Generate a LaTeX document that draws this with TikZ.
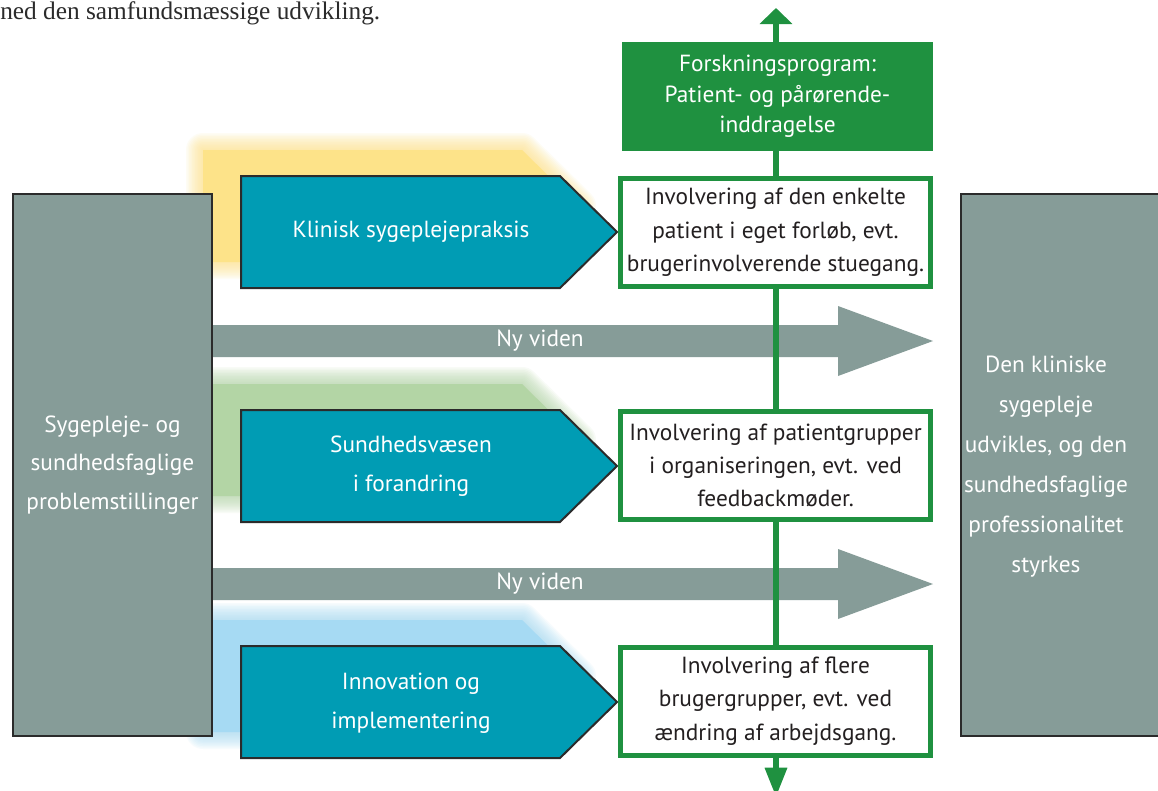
\documentclass[tikz,border=0pt]{standalone}
\usepackage{fontspec}
\setmainfont{PT Sans}
\newfontfamily\topserif{Liberation Serif}
\usetikzlibrary{arrows.meta}
\definecolor{graygreen}{HTML}{869C98}
\definecolor{tealbox}{HTML}{009CB4}
\definecolor{grn}{HTML}{1F9140}
\definecolor{yel}{HTML}{FDE389}
\definecolor{lgreen}{HTML}{B3D5A5}
\definecolor{lblue}{HTML}{A6DAF3}
\definecolor{txt}{HTML}{231F20}
\definecolor{dark}{HTML}{2B2B2B}
\tikzset{
  lbl/.style={text=white, align=center, inner sep=0pt, font=\fontsize{17.5}{29}\selectfont},
  tealshape/.style={fill=tealbox, draw=dark, line width=1.5pt, line join=miter},
  grayshape/.style={fill=graygreen, draw=dark, line width=1.5pt},
  whitebox/.style={draw=grn, fill=white, line width=3.75pt, minimum width=232.5pt, minimum height=81pt, inner sep=0pt, text=txt, align=center, font=\fontsize{17.5}{25}\selectfont},
  greenbox/.style={fill=grn, minimum width=233pt, minimum height=82pt, inner sep=0pt, text=white, align=center, font=\fontsize{17.5}{23}\selectfont},
}
\newcommand\blurpent[2]{%
  \foreach \w in {34,31,...,1}{%
    \draw[#1, line width=\w*0.75pt, opacity=0.09, line join=round]
      (203,#2) -- (522,#2) -- (579,{#2+56}) -- (522,{#2+112}) -- (203,{#2+112}) -- cycle;
  }
  \fill[#1] (203,#2) -- (522,#2) -- (579,{#2+56}) -- (522,{#2+112}) -- (203,{#2+112}) -- cycle;
}
\begin{document}
\begin{tikzpicture}[x=0.75pt,y=-0.75pt]
\useasboundingbox (0,0) rectangle (1158,790);
\clip (0,0) rectangle (1158,790);
\fill[white] (0,0) rectangle (1158,790);

% top text
\node[anchor=base west, inner sep=0pt, text=dark, font=\topserif\fontsize{19}{22}\selectfont] (toptext) at (0,19) {ned den samfundsmæssige udvikling.};

% blurred backgrounds
\blurpent{yel}{150}
\blurpent{lgreen}{384}
\blurpent{lblue}{620}

% Ny viden arrows
\fill[graygreen] (213,325) -- (838,325) -- (838,306) -- (933,341) -- (838,376) -- (838,357) -- (213,357) -- cycle;
\fill[graygreen] (213,568) -- (838,568) -- (838,549) -- (933,584) -- (838,619) -- (838,600) -- (213,600) -- cycle;
\node[lbl] (ny1) at (540,341) {Ny viden};
\node[lbl] (ny2) at (540,584) {Ny viden};

% left and right boxes
\node[grayshape, minimum width=149.25pt, minimum height=406.5pt, inner sep=0pt, text=white, align=center, font=\fontsize{17.5}{29}\selectfont] (left) at (112.5,465)
  {Sygepleje- og\\sundhedsfaglige\\problemstillinger};
\draw[grayshape] (961,194) rectangle (1180,736);
\node[lbl, font=\fontsize{17.5}{30}\selectfont] (right) at (1046,466.5)
  {Den kliniske\\sygepleje\\udvikles, og den\\sundhedsfaglige\\professionalitet\\styrkes};

% teal pentagons
\draw[tealshape] (241,176) -- (560,176) -- (617,232) -- (560,288) -- (241,288) -- cycle;
\draw[tealshape] (241,410) -- (560,410) -- (617,466) -- (560,522) -- (241,522) -- cycle;
\draw[tealshape] (241,646) -- (560,646) -- (617,702) -- (560,758) -- (241,758) -- cycle;
\node[lbl] (klin) at (411,232) {Klinisk sygeplejepraksis};
\node[lbl] (sund) at (411,466) {Sundhedsvæsen\\i forandring};
\node[lbl] (inno) at (411,703) {Innovation og\\implementering};

% green vertical line
\coordinate (gtop) at (776,8);
\coordinate (gbot) at (776,797);
\draw[grn, line width=4pt, {Triangle[width=24pt,length=12pt]}-{Triangle[width=16pt,length=22pt]}] (gtop) -- (gbot);

% green boxes
\node[greenbox] (forsk) at (777.5,96.5) {Forskningsprogram:\\Patient- og pårørende-\\inddragelse};
\node[whitebox] (inv1) at (775.5,232.5) {Involvering af den enkelte\\patient i eget forløb, evt.\\brugerinvolverende stuegang.};
\node[whitebox] (inv2) at (775.5,465.5) {Involvering af patientgrupper\\i organiseringen, evt. ved\\feedbackmøder.};
\node[whitebox] (inv3) at (775.5,701) {Involvering af flere\\brugergrupper, evt. ved\\ændring af arbejdsgang.};
\end{tikzpicture}
\end{document}
